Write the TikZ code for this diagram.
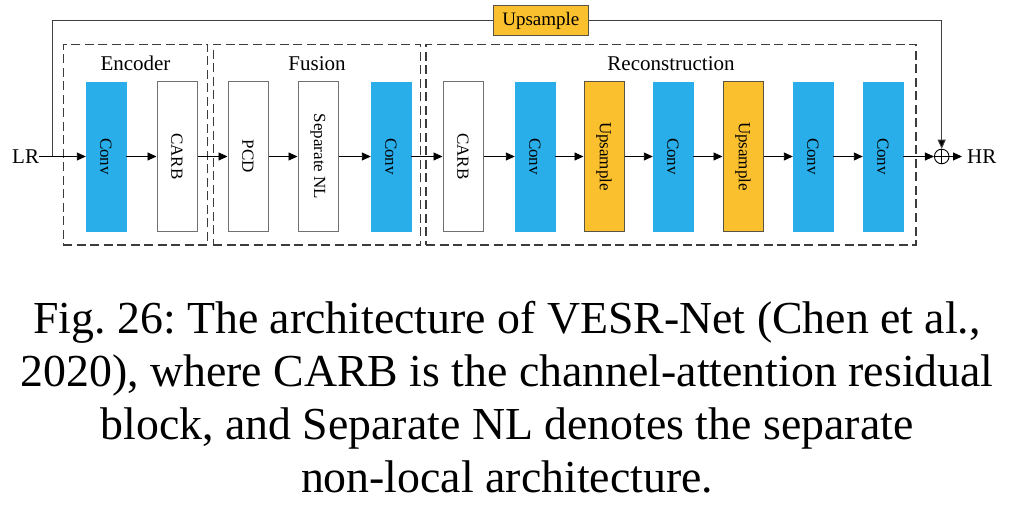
\documentclass[tikz,border=0pt]{standalone}
\usepackage{fontspec}
\usepackage{graphicx}
\setmainfont{Liberation Serif}
\usetikzlibrary{arrows.meta}
\definecolor{convblue}{HTML}{29AEEA}
\definecolor{upyellow}{HTML}{FBC02D}
\definecolor{upborder}{HTML}{5A5444}
\definecolor{blkgray}{HTML}{707070}
\definecolor{dashgray}{HTML}{3C3C3C}
\frenchspacing
\begin{document}
\begin{tikzpicture}[x=1pt,y=-1pt,
  blk/.style={minimum width=40pt,minimum height=149pt,inner sep=0pt,font=\fontsize{17}{17}\selectfont},
  conv/.style={blk,fill=convblue,draw=convblue},
  carb/.style={blk,fill=white,draw=blkgray,line width=1pt},
  ups/.style={blk,fill=upyellow,draw=upborder,line width=1pt},
  grp/.style={draw=dashgray,dash pattern=on 9pt off 4.5pt,line width=1.2pt,inner sep=0pt},
  arr/.style={-{Triangle[length=9pt,width=8pt]},line width=0.9pt},
  fbline/.style={draw=black!75,line width=0.9pt},
  lbl/.style={font=\fontsize{21}{21}\selectfont,inner sep=0pt,anchor=base},
  io/.style={font=\fontsize{21}{21}\selectfont,inner sep=0pt},
  captext/.style={font=\fontsize{45.8}{53}\selectfont,inner sep=0pt,anchor=base}]
\useasboundingbox (0,0) rectangle (1014,505);

% group boxes
\node[grp,minimum width=144.4pt,minimum height=200.7pt] (genc) at (135.5,144.65) {};
\node[grp,minimum width=207.4pt,minimum height=200.7pt] (gfus) at (317,144.65) {};
\node[grp,minimum width=490pt,minimum height=200.7pt] (grec) at (671,144.65) {};
\node[lbl] (lenc) at (135.5,71) {Encoder};
\node[lbl] (lfus) at (317,71) {Fusion};
\node[lbl] (lrec) at (671,71) {Reconstruction};

% blocks
\node[conv] (b1) at (106,156.5) {\rotatebox{-90}{Conv}};
\node[carb] (b2) at (177,156.5) {\rotatebox{-90}{CARB}};
\node[carb] (b3) at (248,156.5) {\rotatebox{-90}{PCD}};
\node[carb] (b4) at (318,156.5) {\rotatebox{-90}{Separate NL}};
\node[conv] (b5) at (391,156.5) {\rotatebox{-90}{Conv}};
\node[carb] (b6) at (463,156.5) {\rotatebox{-90}{CARB}};
\node[conv] (b7) at (535,156.5) {\rotatebox{-90}{Conv}};
\node[ups]  (b8) at (604,156.5) {\rotatebox{-90}{Upsample}};
\node[conv] (b9) at (673,156.5) {\rotatebox{-90}{Conv}};
\node[ups]  (b10) at (743,156.5) {\rotatebox{-90}{Upsample}};
\node[conv] (b11) at (813,156.5) {\rotatebox{-90}{Conv}};
\node[conv] (b12) at (883,156.5) {\rotatebox{-90}{Conv}};

% input / output
\node[io,anchor=base west] (lr) at (12,163.5) {LR};
\node[io,anchor=base west] (hr) at (967,163.5) {HR};
\coordinate (hrin) at (962,156.5);
\node[draw=black,line width=0.9pt,circle,minimum size=14.6pt,inner sep=0pt] (op) at (941.7,156.5) {};
\draw[line width=0.9pt] (op.north) -- (op.south) (op.west) -- (op.east);

% top upsample
\node[fill=upyellow,draw=upborder,line width=1pt,minimum width=95pt,minimum height=29.6pt,inner sep=0pt,font=\fontsize{19}{19}\selectfont] (tu) at (540.8,20.5) {Upsample};

% main chain
\coordinate (fb) at (52.7,156.5);
\draw[arr] (lr.east |- b1.west) -- (b1.west);
\foreach \a/\b in {b1/b2,b2/b3,b3/b4,b4/b5,b5/b6,b6/b7,b7/b8,b8/b9,b9/b10,b10/b11,b11/b12}{
  \draw[arr] (\a.east) -- (\b.west);
}
\draw[arr] (b12.east) -- (op.west);
\draw[arr] (op.east) -- (hrin);

% feedback path
\draw[fbline] (fb) |- (tu.west);
\draw[fbline,arr,-{Triangle[length=9pt,width=8pt,fill=black]}] (tu.east) -| (op.north);

% caption
\node[captext] (c1) at (507,333) {Fig. 26: The architecture of VESR-Net (Chen et al.,};
\node[captext] (c2) at (507,386) {2020), where CARB is the channel-attention residual};
\node[captext] (c3) at (507,439) {block, and Separate NL denotes the separate};
\node[captext] (c4) at (507,492) {non-local architecture.};
\end{tikzpicture}
\end{document}
